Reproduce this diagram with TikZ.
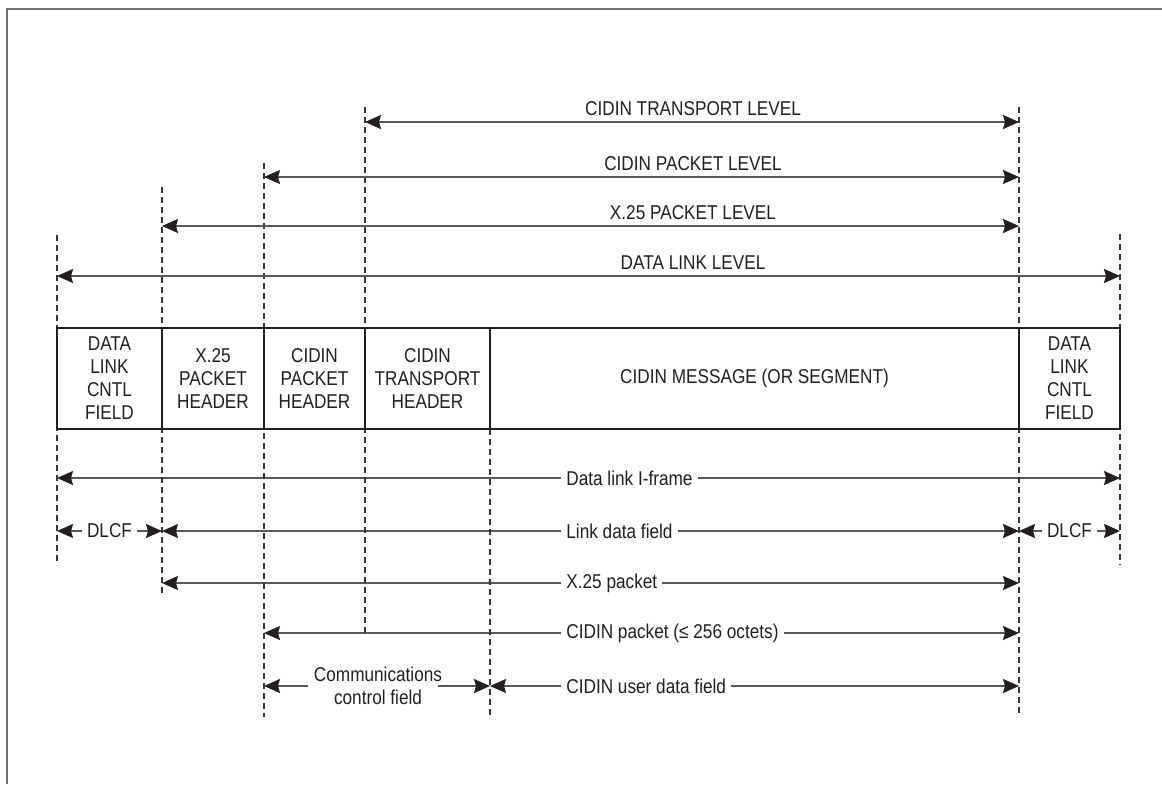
\documentclass[tikz,border=0pt]{standalone}
\usepackage{fontspec}
\setmainfont{Liberation Sans}[FakeStretch=0.86]
\usetikzlibrary{positioning,arrows.meta,backgrounds}
\definecolor{ink}{RGB}{35,31,32}
\tikzset{
  every node/.style={font=\fontsize{10}{11.5}\selectfont,text=ink},
  >={Stealth[length=8pt,width=7pt,inset=1pt,color=ink]},
  cell/.style={align=center,rectangle,draw=ink,line width=0.8pt,minimum height=50.5pt,inner sep=0pt,outer sep=0pt},
  guide/.style={draw=ink!90,line width=0.6pt,dash pattern=on 3pt off 2pt},
  dimline/.style={draw=black!65,line width=0.8pt},
  lvl/.style={anchor=south,inner sep=3pt},
  fld/.style={anchor=west,fill=white,inner xsep=2.5pt,inner ysep=1pt}
}
\begin{document}
\begin{tikzpicture}[x=0.5pt,y=-0.5pt]
    \useasboundingbox (0,0) rectangle (1162,784);
    \draw[black!55,line width=1pt] (7,784) -- (7,9) -- (1162,9);

    % dashed guides
    \foreach \n/\x/\a/\b in {1/57/235/565, 2/162/187/597, 3/264/163/717, 4/365/107/633,
                             5/490/429/717, 6/1019/107/717, 7/1120/234/565} {
      \coordinate (g\n) at (\x,\a);
      \draw[guide] (g\n) -- (\x,\b);
    }

    % the frame
    \node[cell,minimum width=52.5pt,anchor=north west] (dlcfA) at (57,328) {DATA\\LINK\\CNTL\\FIELD};
    \node[cell,minimum width=51pt,right=0pt of dlcfA] (xhdr) {X.25\\PACKET\\HEADER};
    \node[cell,minimum width=50.5pt,right=0pt of xhdr] (phdr) {CIDIN\\PACKET\\HEADER};
    \node[cell,minimum width=62.5pt,right=0pt of phdr] (thdr) {CIDIN\\TRANSPORT\\HEADER};
    \node[cell,minimum width=264.5pt,right=0pt of thdr] (msg) {CIDIN MESSAGE (OR SEGMENT)};
    \node[cell,minimum width=50.5pt,right=0pt of msg] (dlcfB) {DATA\\LINK\\CNTL\\FIELD};

    % levels
    \node[lvl] (tlev) at (693,122) {CIDIN TRANSPORT LEVEL};
    \node[lvl] (plev) at (693,177) {CIDIN PACKET LEVEL};
    \node[lvl] (xlev) at (693,226) {X.25 PACKET LEVEL};
    \node[lvl] (dlev) at (693,276) {DATA LINK LEVEL};
    \draw[dimline,<->] (g4 |- tlev.south) -- (g6 |- tlev.south);
    \draw[dimline,<->] (g3 |- plev.south) -- (g6 |- plev.south);
    \draw[dimline,<->] (g2 |- xlev.south) -- (g6 |- xlev.south);
    \draw[dimline,<->] (g1 |- dlev.south) -- (g7 |- dlev.south);

    % fields
    \node[fld] (iframe) at (561,478) {Data link I-frame};
    \node[fld] (ldata) at (561,531) {Link data field};
    \node[fld,anchor=center] (dlA) at (109.5,531) {DLCF};
    \node[fld,anchor=center] (dlB) at (1069.5,531) {DLCF};
    \node[fld] (xpkt) at (561,583) {X.25 packet};
    \node[fld] (cpkt) at (561,633) {CIDIN packet (≤ 256 octets)};
    \node[fld] (udata) at (561,686) {CIDIN user data field};
    \node[align=center,inner sep=0pt] (ccf) at (378,686) {Communications\\control field};

    \begin{scope}[on background layer]
    \draw[dimline,<->] (g1 |- iframe.west) -- (g7 |- iframe.west);
    \draw[dimline,<->] (g2 |- ldata.west) -- (g6 |- ldata.west);
    \draw[dimline,<->] (g1 |- dlA) -- (g2 |- dlA);
    \draw[dimline,<->] (g6 |- dlB) -- (g7 |- dlB);
    \draw[dimline,<->] (g2 |- xpkt.west) -- (g6 |- xpkt.west);
    \draw[dimline,<->] (g3 |- cpkt.west) -- (g6 |- cpkt.west);
    \draw[dimline,<->] (g5 |- udata.west) -- (g6 |- udata.west);
    \end{scope}
    \draw[dimline,->] ([xshift=-3pt]ccf.west) -- (g3 |- ccf.west);
    \draw[dimline,->] ([xshift=-2pt]ccf.east) -- (g5 |- ccf.east);
\end{tikzpicture}
\end{document}
